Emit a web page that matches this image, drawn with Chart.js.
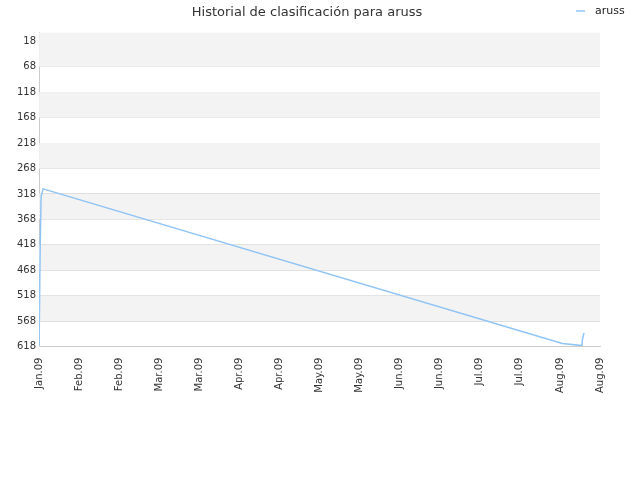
<!DOCTYPE html><html><head><script src="https://cdn.jsdelivr.net/npm/chart.js"></script>
<style>body{margin:0}#w{width:640px;height:480px}</style></head><body><div id="w"><canvas id="c"></canvas></div><script>
const xLabels=["Jan.09","Feb.09","Feb.09","Mar.09","Mar.09","Apr.09","Apr.09","May.09","May.09","Jun.09","Jun.09","Jul.09","Jul.09","Aug.09","Aug.09"];
const xPos=[0,0.025,0.05,0.1,13.06,13.55,13.56,13.6];
const ranks=[616,435,323,308,612,616,605,591];
const yTicks=[18,68,118,168,218,268,318,368,418,468,518,568,618];
const bands={id:'bands',beforeDatasetsDraw(ch){const {ctx,chartArea:a,scales:{y}}=ch;ctx.save();ctx.fillStyle='#f3f3f3';
const edges=[a.top].concat(yTicks.slice(1).map(v=>y.getPixelForValue(v)));
for(let i=0;i<edges.length-1;i+=2){ctx.fillRect(a.left,edges[i],a.right-a.left,edges[i+1]-edges[i]);}ctx.restore();},
afterDraw(ch){const ctx=ch.ctx;ctx.save();ctx.strokeStyle='#90c4f4';ctx.lineWidth=1.5;ctx.beginPath();ctx.moveTo(576,11);ctx.lineTo(585,11);ctx.stroke();
ctx.fillStyle='#222';ctx.font='11px "DejaVu Sans"';ctx.textBaseline='middle';ctx.fillText('aruss',595,11);ctx.restore();}};
new Chart(document.getElementById('c'),{type:'line',data:{datasets:[{label:'aruss',data:xPos.map((x,i)=>({x,y:ranks[i]})),borderColor:'#90c4f4',backgroundColor:'#90c4f4',borderWidth:1.5,pointRadius:0,tension:0}]},
options:{responsive:true,maintainAspectRatio:false,animation:false,
layout:{padding:{left:14,right:40,top:0,bottom:84}},
plugins:{title:{display:true,text:'Historial de clasificación para aruss',color:'#333',font:{family:'DejaVu Sans',size:13,weight:'normal'},padding:{top:5,bottom:12}},
legend:{display:false}},
scales:{x:{type:'linear',min:0,max:14,ticks:{stepSize:1,autoSkip:false,maxRotation:90,minRotation:90,callback:v=>xLabels[v],font:{family:'DejaVu Sans',size:10},color:'#333'},grid:{display:false},border:{color:'#ccc'}},
y:{reverse:true,min:1,max:618,afterBuildTicks:s=>{s.ticks=yTicks.map(v=>({value:v}))},ticks:{font:{family:'DejaVu Sans',size:10},color:'#333'},grid:{color:'#dddddd',drawTicks:false},border:{color:'#ccc'}}}},
plugins:[bands]});
</script></body></html>
